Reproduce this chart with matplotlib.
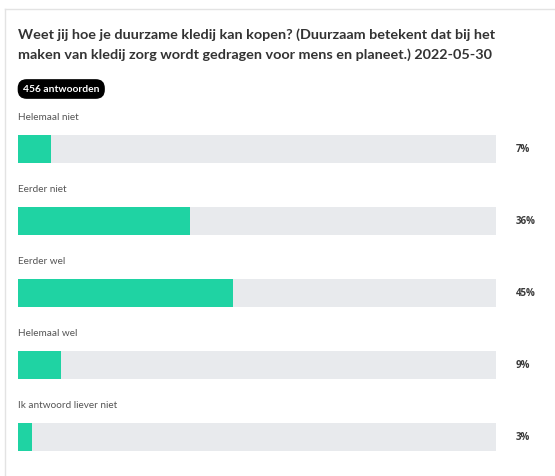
import matplotlib.pyplot as plt
from matplotlib.lines import Line2D

title = "Weet jij hoe je duurzame kledij kan kopen? (Duurzaam betekent dat bij het\nmaken van kledij zorg wordt gedragen voor mens en planeet.) 2022-05-30"
responses = "456 antwoorden"
answers = ["Helemaal niet", "Eerder niet", "Eerder wel", "Helemaal wel", "Ik antwoord liever niet"]
percents = [7, 36, 45, 9, 3]

W, H = 555, 477
fig = plt.figure(figsize=(W / 100, H / 100), dpi=100)
fig.patch.set_facecolor("white")

# card border (left + top)
fig.add_artist(Line2D([5 / W, 5 / W], [0, 1 - 10 / H], color="#e3e3e3", lw=1))
fig.add_artist(Line2D([5 / W, 1], [1 - 10 / H, 1 - 10 / H], color="#e3e3e3", lw=1))

fig.text(18 / W, 1 - 28 / H, title, ha="left", va="top", fontsize=10.4, fontweight="bold",
         color="#333333", family="Lato", linespacing=1.7)
fig.text(23 / W, 1 - 90 / H, responses, ha="left", va="center", fontsize=7.4, fontweight="bold",
         color="white", family="Lato",
         bbox=dict(boxstyle="round,pad=0.45,rounding_size=0.8", fc="black", ec="black"))

# bars axes: track spans x 18..496 px, rows centered at 150 + 72*i px
top, bottom = 100, 470
ax = fig.add_axes([18 / W, 1 - bottom / H, (496 - 18) / W, (bottom - top) / H])
ax.set_xlim(0, 100)
ax.set_ylim((bottom - 150) / 72, (top - 150) / 72)
ax.axis("off")

ypos = list(range(len(answers)))
ax.barh(ypos, [100] * len(answers), height=0.39, color="#e8eaed", zorder=1)
ax.barh(ypos, percents, height=0.39, color="#1fd3a3", zorder=2)
for i, (a, p) in enumerate(zip(answers, percents)):
    ax.text(0, i - 0.45, a, ha="left", va="center", fontsize=7.2, color="#555555",
            family="Lato", clip_on=False)
    ax.text(104.2, i, f"{p}%", ha="left", va="center", fontsize=7, fontweight="bold",
            color="#3a3a3a", family="Open Sans", clip_on=False)

fig.savefig("out.png", dpi=100, facecolor="white")
